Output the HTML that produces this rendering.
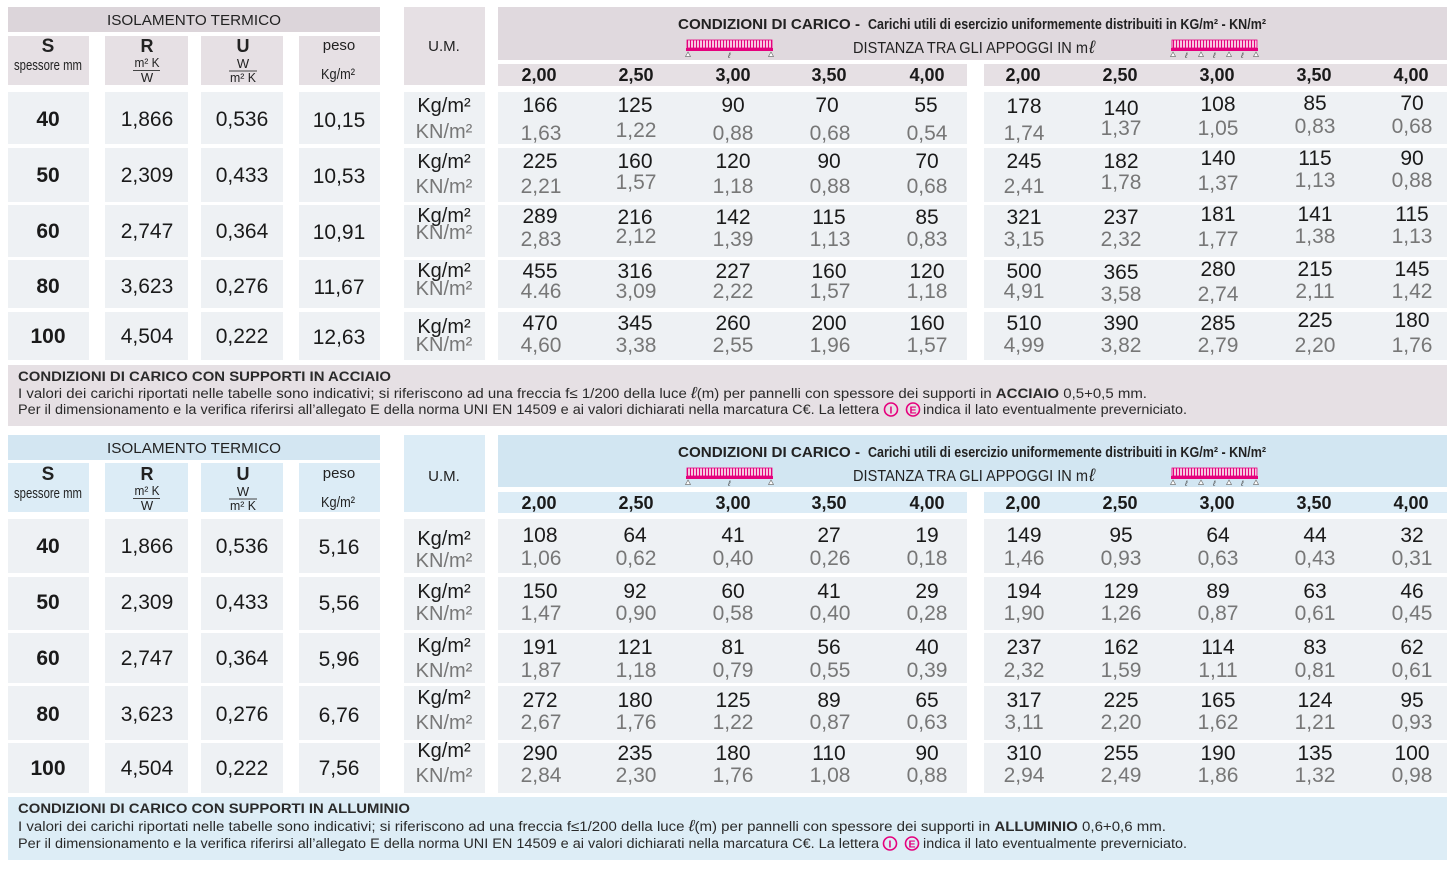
<!DOCTYPE html>
<html><head><meta charset="utf-8"><style>
html,body{margin:0;padding:0;background:#fff;}
svg{display:block}
text{font-family:"Liberation Sans",Arial,sans-serif;}
.p{font-size:21px;fill:#1a1a1a;text-anchor:middle}
.s{font-size:21px;fill:#777;text-anchor:middle}
.sb{font-size:21px;fill:#1a1a1a;text-anchor:middle;font-weight:bold}
.hd{font-size:18px;font-weight:bold;fill:#1a1a1a;text-anchor:middle}
.u1{font-size:20px;fill:#1a1a1a;text-anchor:middle}
.u2{font-size:20px;fill:#777;text-anchor:middle}
.fn{font-size:13.5px;fill:#2a2a2a}
.c{text-anchor:middle;fill:#222}
.cp{fill:#eef1f4}
.hp1{fill:#e6e0e4}
.hb1{fill:#dcecf6}
</style></head><body>
<svg width="1456" height="871" viewBox="0 0 1456 871" xmlns="http://www.w3.org/2000/svg">
<defs>
<pattern id="hp" x="0" y="0" width="3" height="10" patternUnits="userSpaceOnUse"><rect width="3" height="10" fill="#f7c6df"/><rect width="1" height="10" fill="#e5007d"/></pattern>
</defs>
<rect width="1456" height="871" fill="#fff"/>

<!-- ===== TOP SECTION ===== -->
<rect x="8" y="7" width="372" height="25" fill="#dcd5da"/>
<rect class="hp1" x="8" y="36" width="81" height="49"/>
<rect class="hp1" x="105" y="36" width="83" height="49"/>
<rect class="hp1" x="201" y="36" width="82" height="49"/>
<rect class="hp1" x="299" y="36" width="81" height="49"/>
<rect class="hp1" x="404" y="7" width="81" height="78"/>
<rect x="498" y="7" width="949" height="53" fill="#e0d9de"/>
<rect class="hp1" x="498" y="64" width="469" height="22"/>
<rect class="hp1" x="984" y="64" width="463" height="22"/>

<g class="cp">
<rect x="8" y="92" width="81" height="52"/><rect x="105" y="92" width="83" height="52"/><rect x="201" y="92" width="82" height="52"/><rect x="299" y="92" width="81" height="52"/><rect x="404" y="92" width="81" height="52"/><rect x="498" y="92" width="469" height="52"/><rect x="984" y="92" width="463" height="52"/>
<rect x="8" y="148" width="81" height="54"/><rect x="105" y="148" width="83" height="54"/><rect x="201" y="148" width="82" height="54"/><rect x="299" y="148" width="81" height="54"/><rect x="404" y="148" width="81" height="54"/><rect x="498" y="148" width="469" height="54"/><rect x="984" y="148" width="463" height="54"/>
<rect x="8" y="205" width="81" height="52"/><rect x="105" y="205" width="83" height="52"/><rect x="201" y="205" width="82" height="52"/><rect x="299" y="205" width="81" height="52"/><rect x="404" y="205" width="81" height="52"/><rect x="498" y="205" width="469" height="52"/><rect x="984" y="205" width="463" height="52"/>
<rect x="8" y="260" width="81" height="48"/><rect x="105" y="260" width="83" height="48"/><rect x="201" y="260" width="82" height="48"/><rect x="299" y="260" width="81" height="48"/><rect x="404" y="260" width="81" height="48"/><rect x="498" y="260" width="469" height="48"/><rect x="984" y="260" width="463" height="48"/>
<rect x="8" y="312" width="81" height="48"/><rect x="105" y="312" width="83" height="48"/><rect x="201" y="312" width="82" height="48"/><rect x="299" y="312" width="81" height="48"/><rect x="404" y="312" width="81" height="48"/><rect x="498" y="312" width="469" height="48"/><rect x="984" y="312" width="463" height="48"/>
</g>
<rect class="hp1" x="8" y="365" width="1439" height="61"/>

<!-- top headers text -->
<text class="c" x="194" y="25" font-size="15" textLength="174" lengthAdjust="spacingAndGlyphs">ISOLAMENTO TERMICO</text>
<text class="c" x="48" y="52" font-size="19" font-weight="bold">S</text>
<text class="c" x="48" y="70" font-size="14.5" textLength="68" lengthAdjust="spacingAndGlyphs">spessore mm</text>
<text class="c" x="147" y="52" font-size="18" font-weight="bold">R</text>
<text class="c" x="147" y="67" font-size="13" textLength="25" lengthAdjust="spacingAndGlyphs">m² K</text>
<rect x="133" y="70" width="27" height="1" fill="#444"/>
<text class="c" x="147" y="82" font-size="13">W</text>
<text class="c" x="243" y="52" font-size="18" font-weight="bold">U</text>
<text class="c" x="243" y="68" font-size="13">W</text>
<rect x="229" y="70.5" width="28" height="1" fill="#444"/>
<text class="c" x="243" y="82" font-size="13" textLength="26" lengthAdjust="spacingAndGlyphs">m² K</text>
<text class="c" x="339" y="50" font-size="15">peso</text>
<text class="c" x="338" y="79" font-size="15" textLength="34" lengthAdjust="spacingAndGlyphs">Kg/m²</text>
<text class="c" x="444" y="51" font-size="15">U.M.</text>
<text x="678" y="29" font-size="15" font-weight="bold" fill="#222" textLength="182" lengthAdjust="spacingAndGlyphs">CONDIZIONI DI CARICO -</text>
<text x="868" y="29" font-size="14.5" font-weight="bold" fill="#222" textLength="398" lengthAdjust="spacingAndGlyphs">Carichi utili di esercizio uniformemente distribuiti in KG/m² - KN/m²</text>
<text x="853" y="53" font-size="15.5" fill="#222" textLength="235" lengthAdjust="spacingAndGlyphs">DISTANZA TRA GLI APPOGGI IN m</text>
<text x="1089" y="53" font-size="18" font-style="italic" fill="#222">ℓ</text>
<!-- icons top -->
<rect x="687" y="40" width="85" height="8" fill="url(#hp)" stroke="#e5007d" stroke-width="0.8"/>
<rect x="686" y="48" width="87" height="3" fill="#e5007d"/>
<path d="M688 52l-2.5 4.5h5z M771 52l-2.5 4.5h5z" fill="#fff" stroke="#777" stroke-width="0.7"/>
<text x="728" y="58" font-size="8" font-style="italic" fill="#444">ℓ</text>
<rect x="1172" y="40" width="85" height="8" fill="url(#hp)" stroke="#e5007d" stroke-width="0.8"/>
<rect x="1171" y="48" width="87" height="3" fill="#e5007d"/>
<path d="M1173 52l-2.5 4.5h5z M1201 52l-2.5 4.5h5z M1229 52l-2.5 4.5h5z M1256 52l-2.5 4.5h5z" fill="#fff" stroke="#777" stroke-width="0.7"/>
<text x="1185" y="58" font-size="8" font-style="italic" fill="#444">ℓ</text>
<text x="1213" y="58" font-size="8" font-style="italic" fill="#444">ℓ</text>
<text x="1241" y="58" font-size="8" font-style="italic" fill="#444">ℓ</text>
<!-- col headers top -->
<g class="hd">
<text x="539" y="81">2,00</text><text x="636" y="81">2,50</text><text x="733" y="81">3,00</text><text x="829" y="81">3,50</text><text x="927" y="81">4,00</text>
<text x="1023" y="81">2,00</text><text x="1120" y="81">2,50</text><text x="1217" y="81">3,00</text><text x="1314" y="81">3,50</text><text x="1411" y="81">4,00</text>
</g>

<!-- top left values -->
<text class="sb" x="48" y="126">40</text><text class="p" x="147" y="126">1,866</text><text class="p" x="242" y="126">0,536</text><text class="p" x="339" y="127">10,15</text>
<text class="sb" x="48" y="182">50</text><text class="p" x="147" y="182">2,309</text><text class="p" x="242" y="182">0,433</text><text class="p" x="339" y="183">10,53</text>
<text class="sb" x="48" y="238">60</text><text class="p" x="147" y="238">2,747</text><text class="p" x="242" y="238">0,364</text><text class="p" x="339" y="239">10,91</text>
<text class="sb" x="48" y="293">80</text><text class="p" x="147" y="293">3,623</text><text class="p" x="242" y="293">0,276</text><text class="p" x="339" y="294">11,67</text>
<text class="sb" x="48" y="343">100</text><text class="p" x="147" y="343">4,504</text><text class="p" x="242" y="343">0,222</text><text class="p" x="339" y="344">12,63</text>

<!-- top UM -->
<text class="u1" x="444" y="112">Kg/m²</text><text class="u2" x="444" y="138">KN/m²</text>
<text class="u1" x="444" y="168">Kg/m²</text><text class="u2" x="444" y="193">KN/m²</text>
<text class="u1" x="444" y="222">Kg/m²</text><text class="u2" x="444" y="239">KN/m²</text>
<text class="u1" x="444" y="277">Kg/m²</text><text class="u2" x="444" y="295">KN/m²</text>
<text class="u1" x="444" y="333">Kg/m²</text><text class="u2" x="444" y="351">KN/m²</text>

<!-- top data row1 -->
<text class="p" x="540" y="112">166</text><text class="p" x="635" y="112">125</text><text class="p" x="733" y="112">90</text><text class="p" x="827" y="112">70</text><text class="p" x="926" y="112">55</text>
<text class="s" x="541" y="140">1,63</text><text class="s" x="636" y="137">1,22</text><text class="s" x="733" y="140">0,88</text><text class="s" x="830" y="140">0,68</text><text class="s" x="927" y="140">0,54</text>
<text class="p" x="1024" y="113">178</text><text class="p" x="1121" y="115">140</text><text class="p" x="1218" y="111">108</text><text class="p" x="1315" y="110">85</text><text class="p" x="1412" y="110">70</text>
<text class="s" x="1024" y="140">1,74</text><text class="s" x="1121" y="135">1,37</text><text class="s" x="1218" y="135">1,05</text><text class="s" x="1315" y="133">0,83</text><text class="s" x="1412" y="133">0,68</text>
<!-- row2 -->
<text class="p" x="540" y="168">225</text><text class="p" x="635" y="168">160</text><text class="p" x="733" y="168">120</text><text class="p" x="829" y="168">90</text><text class="p" x="927" y="168">70</text>
<text class="s" x="541" y="193">2,21</text><text class="s" x="636" y="189">1,57</text><text class="s" x="733" y="193">1,18</text><text class="s" x="830" y="193">0,88</text><text class="s" x="927" y="193">0,68</text>
<text class="p" x="1024" y="168">245</text><text class="p" x="1121" y="168">182</text><text class="p" x="1218" y="165">140</text><text class="p" x="1315" y="165">115</text><text class="p" x="1412" y="165">90</text>
<text class="s" x="1024" y="193">2,41</text><text class="s" x="1121" y="189">1,78</text><text class="s" x="1218" y="190">1,37</text><text class="s" x="1315" y="187">1,13</text><text class="s" x="1412" y="187">0,88</text>
<!-- row3 -->
<text class="p" x="540" y="223">289</text><text class="p" x="635" y="224">216</text><text class="p" x="733" y="224">142</text><text class="p" x="829" y="224">115</text><text class="p" x="927" y="224">85</text>
<text class="s" x="541" y="246">2,83</text><text class="s" x="636" y="243">2,12</text><text class="s" x="733" y="246">1,39</text><text class="s" x="830" y="246">1,13</text><text class="s" x="927" y="246">0,83</text>
<text class="p" x="1024" y="224">321</text><text class="p" x="1121" y="224">237</text><text class="p" x="1218" y="221">181</text><text class="p" x="1315" y="221">141</text><text class="p" x="1412" y="221">115</text>
<text class="s" x="1024" y="246">3,15</text><text class="s" x="1121" y="246">2,32</text><text class="s" x="1218" y="246">1,77</text><text class="s" x="1315" y="243">1,38</text><text class="s" x="1412" y="243">1,13</text>
<!-- row4 -->
<text class="p" x="540" y="278">455</text><text class="p" x="635" y="278">316</text><text class="p" x="733" y="278">227</text><text class="p" x="829" y="278">160</text><text class="p" x="927" y="278">120</text>
<text class="s" x="541" y="298">4.46</text><text class="s" x="636" y="298">3,09</text><text class="s" x="733" y="298">2,22</text><text class="s" x="830" y="298">1,57</text><text class="s" x="927" y="298">1,18</text>
<text class="p" x="1024" y="278">500</text><text class="p" x="1121" y="279">365</text><text class="p" x="1218" y="276">280</text><text class="p" x="1315" y="276">215</text><text class="p" x="1412" y="276">145</text>
<text class="s" x="1024" y="298">4,91</text><text class="s" x="1121" y="301">3,58</text><text class="s" x="1218" y="301">2,74</text><text class="s" x="1315" y="298">2,11</text><text class="s" x="1412" y="298">1,42</text>
<!-- row5 -->
<text class="p" x="540" y="330">470</text><text class="p" x="635" y="330">345</text><text class="p" x="733" y="330">260</text><text class="p" x="829" y="330">200</text><text class="p" x="927" y="330">160</text>
<text class="s" x="541" y="352">4,60</text><text class="s" x="636" y="352">3,38</text><text class="s" x="733" y="352">2,55</text><text class="s" x="830" y="352">1,96</text><text class="s" x="927" y="352">1,57</text>
<text class="p" x="1024" y="330">510</text><text class="p" x="1121" y="330">390</text><text class="p" x="1218" y="330">285</text><text class="p" x="1315" y="327">225</text><text class="p" x="1412" y="327">180</text>
<text class="s" x="1024" y="352">4,99</text><text class="s" x="1121" y="352">3,82</text><text class="s" x="1218" y="352">2,79</text><text class="s" x="1315" y="352">2,20</text><text class="s" x="1412" y="352">1,76</text>

<!-- top footnote -->
<text class="fn" x="18" y="381" font-weight="bold" textLength="373" lengthAdjust="spacingAndGlyphs">CONDIZIONI DI CARICO CON SUPPORTI IN ACCIAIO</text>
<text class="fn" x="18" y="398" textLength="1129" lengthAdjust="spacingAndGlyphs">I valori dei carichi riportati nelle tabelle sono indicativi; si riferiscono ad una freccia f≤ 1/200 della luce <tspan font-style="italic" font-size="16">ℓ</tspan>(m) per pannelli con spessore dei supporti in <tspan font-weight="bold">ACCIAIO</tspan> 0,5+0,5 mm.</text>
<text class="fn" x="18" y="414" textLength="861" lengthAdjust="spacingAndGlyphs">Per il dimensionamento e la verifica riferirsi all’allegato E della norma UNI EN 14509 e ai valori dichiarati nella marcatura C€. La lettera</text>
<circle cx="891" cy="409.5" r="6.5" fill="none" stroke="#e5007d" stroke-width="1.6"/>
<text x="891" y="413.5" font-size="10.5" font-weight="bold" fill="#e5007d" text-anchor="middle">I</text>
<circle cx="913" cy="409.5" r="6.5" fill="none" stroke="#e5007d" stroke-width="1.6"/>
<text x="913" y="413.5" font-size="10.5" font-weight="bold" fill="#e5007d" text-anchor="middle">E</text>
<text class="fn" x="923" y="414" textLength="264" lengthAdjust="spacingAndGlyphs">indica il lato eventualmente preverniciato.</text>

<!-- ===== BOTTOM SECTION ===== -->
<rect x="8" y="435" width="372" height="25" fill="#d3e6f2"/>
<rect class="hb1" x="8" y="463" width="81" height="49"/>
<rect class="hb1" x="105" y="463" width="83" height="49"/>
<rect class="hb1" x="201" y="463" width="82" height="49"/>
<rect class="hb1" x="299" y="463" width="81" height="49"/>
<rect class="hb1" x="404" y="435" width="81" height="77"/>
<rect x="498" y="435" width="949" height="52" fill="#d2e6f2"/>
<rect class="hb1" x="498" y="492" width="469" height="21"/>
<rect class="hb1" x="984" y="492" width="463" height="21"/>

<g class="cp">
<rect x="8" y="519" width="81" height="54"/><rect x="105" y="519" width="83" height="54"/><rect x="201" y="519" width="82" height="54"/><rect x="299" y="519" width="81" height="54"/><rect x="404" y="519" width="81" height="54"/><rect x="498" y="519" width="469" height="54"/><rect x="984" y="519" width="463" height="54"/>
<rect x="8" y="577" width="81" height="53"/><rect x="105" y="577" width="83" height="53"/><rect x="201" y="577" width="82" height="53"/><rect x="299" y="577" width="81" height="53"/><rect x="404" y="577" width="81" height="53"/><rect x="498" y="577" width="469" height="53"/><rect x="984" y="577" width="463" height="53"/>
<rect x="8" y="633" width="81" height="50"/><rect x="105" y="633" width="83" height="50"/><rect x="201" y="633" width="82" height="50"/><rect x="299" y="633" width="81" height="50"/><rect x="404" y="633" width="81" height="50"/><rect x="498" y="633" width="469" height="50"/><rect x="984" y="633" width="463" height="50"/>
<rect x="8" y="686" width="81" height="54"/><rect x="105" y="686" width="83" height="54"/><rect x="201" y="686" width="82" height="54"/><rect x="299" y="686" width="81" height="54"/><rect x="404" y="686" width="81" height="54"/><rect x="498" y="686" width="469" height="54"/><rect x="984" y="686" width="463" height="54"/>
<rect x="8" y="743" width="81" height="50"/><rect x="105" y="743" width="83" height="50"/><rect x="201" y="743" width="82" height="50"/><rect x="299" y="743" width="81" height="50"/><rect x="404" y="743" width="81" height="50"/><rect x="498" y="743" width="469" height="50"/><rect x="984" y="743" width="463" height="50"/>
</g>
<rect x="8" y="797" width="1439" height="63" fill="#ddedf6"/>

<!-- bottom headers text -->
<text class="c" x="194" y="453" font-size="15" textLength="174" lengthAdjust="spacingAndGlyphs">ISOLAMENTO TERMICO</text>
<text class="c" x="48" y="480" font-size="19" font-weight="bold">S</text>
<text class="c" x="48" y="498" font-size="14.5" textLength="68" lengthAdjust="spacingAndGlyphs">spessore mm</text>
<text class="c" x="147" y="480" font-size="18" font-weight="bold">R</text>
<text class="c" x="147" y="495" font-size="13" textLength="25" lengthAdjust="spacingAndGlyphs">m² K</text>
<rect x="133" y="498" width="27" height="1" fill="#444"/>
<text class="c" x="147" y="510" font-size="13">W</text>
<text class="c" x="243" y="480" font-size="18" font-weight="bold">U</text>
<text class="c" x="243" y="496" font-size="13">W</text>
<rect x="229" y="498.5" width="28" height="1" fill="#444"/>
<text class="c" x="243" y="510" font-size="13" textLength="26" lengthAdjust="spacingAndGlyphs">m² K</text>
<text class="c" x="339" y="478" font-size="15">peso</text>
<text class="c" x="338" y="507" font-size="15" textLength="34" lengthAdjust="spacingAndGlyphs">Kg/m²</text>
<text class="c" x="444" y="481" font-size="15">U.M.</text>
<text x="678" y="457" font-size="15" font-weight="bold" fill="#222" textLength="182" lengthAdjust="spacingAndGlyphs">CONDIZIONI DI CARICO -</text>
<text x="868" y="457" font-size="14.5" font-weight="bold" fill="#222" textLength="398" lengthAdjust="spacingAndGlyphs">Carichi utili di esercizio uniformemente distribuiti in KG/m² - KN/m²</text>
<text x="853" y="481" font-size="15.5" fill="#222" textLength="235" lengthAdjust="spacingAndGlyphs">DISTANZA TRA GLI APPOGGI IN m</text>
<text x="1089" y="481" font-size="18" font-style="italic" fill="#222">ℓ</text>
<!-- icons bottom -->
<rect x="687" y="468" width="85" height="8" fill="url(#hp)" stroke="#e5007d" stroke-width="0.8"/>
<rect x="686" y="476" width="87" height="3" fill="#e5007d"/>
<path d="M688 480l-2.5 4.5h5z M771 480l-2.5 4.5h5z" fill="#fff" stroke="#777" stroke-width="0.7"/>
<text x="728" y="486" font-size="8" font-style="italic" fill="#444">ℓ</text>
<rect x="1172" y="468" width="85" height="8" fill="url(#hp)" stroke="#e5007d" stroke-width="0.8"/>
<rect x="1171" y="476" width="87" height="3" fill="#e5007d"/>
<path d="M1173 480l-2.5 4.5h5z M1201 480l-2.5 4.5h5z M1229 480l-2.5 4.5h5z M1256 480l-2.5 4.5h5z" fill="#fff" stroke="#777" stroke-width="0.7"/>
<text x="1185" y="486" font-size="8" font-style="italic" fill="#444">ℓ</text>
<text x="1213" y="486" font-size="8" font-style="italic" fill="#444">ℓ</text>
<text x="1241" y="486" font-size="8" font-style="italic" fill="#444">ℓ</text>
<g class="hd">
<text x="539" y="509">2,00</text><text x="636" y="509">2,50</text><text x="733" y="509">3,00</text><text x="829" y="509">3,50</text><text x="927" y="509">4,00</text>
<text x="1023" y="509">2,00</text><text x="1120" y="509">2,50</text><text x="1217" y="509">3,00</text><text x="1314" y="509">3,50</text><text x="1411" y="509">4,00</text>
</g>

<!-- bottom left values -->
<text class="sb" x="48" y="553">40</text><text class="p" x="147" y="553">1,866</text><text class="p" x="242" y="553">0,536</text><text class="p" x="339" y="554">5,16</text>
<text class="sb" x="48" y="609">50</text><text class="p" x="147" y="609">2,309</text><text class="p" x="242" y="609">0,433</text><text class="p" x="339" y="610">5,56</text>
<text class="sb" x="48" y="665">60</text><text class="p" x="147" y="665">2,747</text><text class="p" x="242" y="665">0,364</text><text class="p" x="339" y="666">5,96</text>
<text class="sb" x="48" y="721">80</text><text class="p" x="147" y="721">3,623</text><text class="p" x="242" y="721">0,276</text><text class="p" x="339" y="722">6,76</text>
<text class="sb" x="48" y="775">100</text><text class="p" x="147" y="775">4,504</text><text class="p" x="242" y="775">0,222</text><text class="p" x="339" y="775">7,56</text>

<!-- bottom UM -->
<text class="u1" x="444" y="545">Kg/m²</text><text class="u2" x="444" y="567">KN/m²</text>
<text class="u1" x="444" y="598">Kg/m²</text><text class="u2" x="444" y="620">KN/m²</text>
<text class="u1" x="444" y="652">Kg/m²</text><text class="u2" x="444" y="677">KN/m²</text>
<text class="u1" x="444" y="704">Kg/m²</text><text class="u2" x="444" y="729">KN/m²</text>
<text class="u1" x="444" y="757">Kg/m²</text><text class="u2" x="444" y="782">KN/m²</text>

<!-- bottom data -->
<text class="p" x="540" y="542">108</text><text class="p" x="635" y="542">64</text><text class="p" x="733" y="542">41</text><text class="p" x="829" y="542">27</text><text class="p" x="927" y="542">19</text>
<text class="s" x="541" y="565">1,06</text><text class="s" x="636" y="565">0,62</text><text class="s" x="733" y="565">0,40</text><text class="s" x="830" y="565">0,26</text><text class="s" x="927" y="565">0,18</text>
<text class="p" x="1024" y="542">149</text><text class="p" x="1121" y="542">95</text><text class="p" x="1218" y="542">64</text><text class="p" x="1315" y="542">44</text><text class="p" x="1412" y="542">32</text>
<text class="s" x="1024" y="565">1,46</text><text class="s" x="1121" y="565">0,93</text><text class="s" x="1218" y="565">0,63</text><text class="s" x="1315" y="565">0,43</text><text class="s" x="1412" y="565">0,31</text>

<text class="p" x="540" y="598">150</text><text class="p" x="635" y="598">92</text><text class="p" x="733" y="598">60</text><text class="p" x="829" y="598">41</text><text class="p" x="927" y="598">29</text>
<text class="s" x="541" y="620">1,47</text><text class="s" x="636" y="620">0,90</text><text class="s" x="733" y="620">0,58</text><text class="s" x="830" y="620">0,40</text><text class="s" x="927" y="620">0,28</text>
<text class="p" x="1024" y="598">194</text><text class="p" x="1121" y="598">129</text><text class="p" x="1218" y="598">89</text><text class="p" x="1315" y="598">63</text><text class="p" x="1412" y="598">46</text>
<text class="s" x="1024" y="620">1,90</text><text class="s" x="1121" y="620">1,26</text><text class="s" x="1218" y="620">0,87</text><text class="s" x="1315" y="620">0,61</text><text class="s" x="1412" y="620">0,45</text>

<text class="p" x="540" y="654">191</text><text class="p" x="635" y="654">121</text><text class="p" x="733" y="654">81</text><text class="p" x="829" y="654">56</text><text class="p" x="927" y="654">40</text>
<text class="s" x="541" y="677">1,87</text><text class="s" x="636" y="677">1,18</text><text class="s" x="733" y="677">0,79</text><text class="s" x="830" y="677">0,55</text><text class="s" x="927" y="677">0,39</text>
<text class="p" x="1024" y="654">237</text><text class="p" x="1121" y="654">162</text><text class="p" x="1218" y="654">114</text><text class="p" x="1315" y="654">83</text><text class="p" x="1412" y="654">62</text>
<text class="s" x="1024" y="677">2,32</text><text class="s" x="1121" y="677">1,59</text><text class="s" x="1218" y="677">1,11</text><text class="s" x="1315" y="677">0,81</text><text class="s" x="1412" y="677">0,61</text>

<text class="p" x="540" y="707">272</text><text class="p" x="635" y="707">180</text><text class="p" x="733" y="707">125</text><text class="p" x="829" y="707">89</text><text class="p" x="927" y="707">65</text>
<text class="s" x="541" y="729">2,67</text><text class="s" x="636" y="729">1,76</text><text class="s" x="733" y="729">1,22</text><text class="s" x="830" y="729">0,87</text><text class="s" x="927" y="729">0,63</text>
<text class="p" x="1024" y="707">317</text><text class="p" x="1121" y="707">225</text><text class="p" x="1218" y="707">165</text><text class="p" x="1315" y="707">124</text><text class="p" x="1412" y="707">95</text>
<text class="s" x="1024" y="729">3,11</text><text class="s" x="1121" y="729">2,20</text><text class="s" x="1218" y="729">1,62</text><text class="s" x="1315" y="729">1,21</text><text class="s" x="1412" y="729">0,93</text>

<text class="p" x="540" y="760">290</text><text class="p" x="635" y="760">235</text><text class="p" x="733" y="760">180</text><text class="p" x="829" y="760">110</text><text class="p" x="927" y="760">90</text>
<text class="s" x="541" y="782">2,84</text><text class="s" x="636" y="782">2,30</text><text class="s" x="733" y="782">1,76</text><text class="s" x="830" y="782">1,08</text><text class="s" x="927" y="782">0,88</text>
<text class="p" x="1024" y="760">310</text><text class="p" x="1121" y="760">255</text><text class="p" x="1218" y="760">190</text><text class="p" x="1315" y="760">135</text><text class="p" x="1412" y="760">100</text>
<text class="s" x="1024" y="782">2,94</text><text class="s" x="1121" y="782">2,49</text><text class="s" x="1218" y="782">1,86</text><text class="s" x="1315" y="782">1,32</text><text class="s" x="1412" y="782">0,98</text>

<!-- bottom footnote -->
<text class="fn" x="18" y="813" font-weight="bold" textLength="392" lengthAdjust="spacingAndGlyphs">CONDIZIONI DI CARICO CON SUPPORTI IN ALLUMINIO</text>
<text class="fn" x="18" y="831" textLength="1148" lengthAdjust="spacingAndGlyphs">I valori dei carichi riportati nelle tabelle sono indicativi; si riferiscono ad una freccia  f≤1/200 della luce <tspan font-style="italic" font-size="16">ℓ</tspan>(m) per pannelli con spessore dei supporti in <tspan font-weight="bold">ALLUMINIO</tspan> 0,6+0,6 mm.</text>
<text class="fn" x="18" y="848" textLength="861" lengthAdjust="spacingAndGlyphs">Per il dimensionamento e la verifica riferirsi all’allegato E della norma UNI EN 14509 e ai valori dichiarati nella marcatura C€. La lettera</text>
<circle cx="890" cy="843.5" r="6.5" fill="none" stroke="#e5007d" stroke-width="1.6"/>
<text x="890" y="847.5" font-size="10.5" font-weight="bold" fill="#e5007d" text-anchor="middle">I</text>
<circle cx="912" cy="843.5" r="6.5" fill="none" stroke="#e5007d" stroke-width="1.6"/>
<text x="912" y="847.5" font-size="10.5" font-weight="bold" fill="#e5007d" text-anchor="middle">E</text>
<text class="fn" x="923" y="848" textLength="264" lengthAdjust="spacingAndGlyphs">indica il lato eventualmente preverniciato.</text>
</svg>
</body></html>
